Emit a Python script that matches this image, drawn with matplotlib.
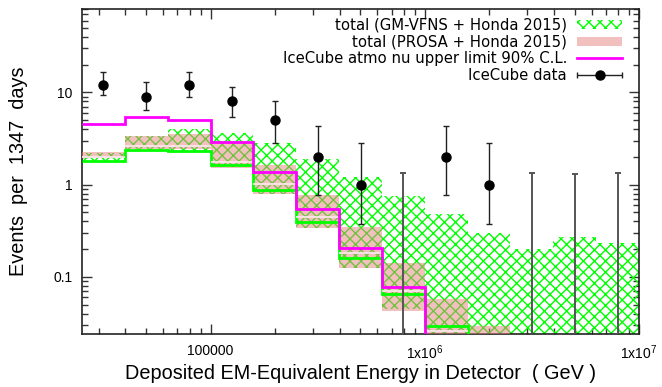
import numpy as np
import matplotlib.pyplot as plt
from matplotlib.patches import Patch
from matplotlib.lines import Line2D
from matplotlib.legend_handler import HandlerErrorbar
from matplotlib.ticker import FixedLocator, FuncFormatter, LogLocator, NullFormatter

plt.rcParams['mathtext.default'] = 'regular'
plt.rcParams['hatch.linewidth'] = 1.0

# energy bins (GeV), 0.2 decades wide
edges = [25119, 39811, 63096, 100000, 158489, 251189, 398107,
         630957, 1000000, 1584893, 2511886, 3981072, 6309573, 10000000]

# GM-VFNS + Honda 2015 band
gm_lo = [1.75, 2.30, 2.32, 1.55, 0.80, 0.34, 0.125, 0.045, 0.01, 0.01, 0.01, 0.01, 0.01]
gm_hi = [2.20, 3.40, 4.00, 3.65, 2.80, 1.90, 1.21, 0.76, 0.48, 0.30, 0.20, 0.27, 0.23]
gm_line = [1.80, 2.35, 2.34, 1.65, 0.87, 0.39, 0.16, 0.065, 0.029, 0.012, 0.006, 0.004, 0.003]

# PROSA + Honda 2015 band
prosa_lo = [1.92, 2.45, 2.42, 1.52, 0.79, 0.338, 0.124, 0.043, 0.015, 0.008, 0.004, 0.003, 0.002]
prosa_hi = [2.27, 3.40, 3.49, 2.84, 1.62, 0.765, 0.343, 0.141, 0.058, 0.0295, 0.01, 0.006, 0.004]
prosa_mid = [1.98, 2.62, 2.60, 1.76, 1.02, 0.445, 0.18, 0.07, 0.026, 0.012, 0.006, 0.004, 0.003]

# IceCube atmospheric neutrino upper limit (90% C.L.)
ic_ul = [4.5, 5.4, 5.0, 2.88, 1.36, 0.545, 0.205, 0.077, 0.01, 0.005, 0.002, 0.001, 0.0005]

# IceCube events and error bars
ic_data = [12, 9, 12, 8, 5, 2, 1, 0, 2, 1, 0, 0, 0]
ic_up = [16.6, 13.1, 16.7, 11.5, 7.98, 4.35, 2.83, 1.32, 4.3, 2.83, 1.32, 1.31, 1.32]
ic_dn = [9.35, 6.43, 8.96, 5.45, 2.81, 0.765, 0.374, 0, 0.765, 0.374, 0, 0, 0]

edges = np.array(edges, dtype=float)
lo, hi = edges[:-1], edges[1:]
xc = np.sqrt(lo * hi)
width = hi - lo

fig, ax = plt.subplots(figsize=(6.62, 3.87), dpi=100)
fig.subplots_adjust(left=0.1239, right=0.9653, bottom=0.137, top=0.9767)

ax.set_xscale('log')
ax.set_yscale('log')

# bands
ax.bar(lo, np.array(gm_hi) - np.array(gm_lo), width=width, bottom=gm_lo, align='edge',
       facecolor='none', edgecolor='#00ff00', hatch='xxx', linewidth=0, zorder=2)
ax.bar(lo, np.array(prosa_hi) - np.array(prosa_lo), width=width, bottom=prosa_lo, align='edge',
       facecolor='#e88282', alpha=0.5, linewidth=0, zorder=3)
ax.stairs(gm_line, edges, baseline=None, color='#00ff00', lw=2, zorder=4)
ax.hlines(prosa_mid, lo, hi, color='#fbe6ec', lw=1.3, zorder=4)
ax.stairs(ic_ul, edges, baseline=None, color='#ff00ff', lw=2, zorder=5)

# data
data = np.array(ic_data, dtype=float)
up = np.array(ic_up)
dn = np.array(ic_dn)
nz = data > 0
ax.errorbar(xc[nz], data[nz], yerr=[data[nz] - dn[nz], up[nz] - data[nz]], fmt='o',
            color='black', ecolor='#222222', ms=6.5, elinewidth=1.0, capsize=2.5, capthick=1.0,
            zorder=6)
ax.vlines(xc[~nz], 1e-3, up[~nz], color='#555555', lw=1.4, zorder=6)
ax.plot(xc[~nz], up[~nz], '_', color='#555555', ms=5, mew=1.4, zorder=6)

ax.set_xlim(edges[0], edges[-1])
ax.set_ylim(0.024, 80)


def xfmt(v, pos):
    if v < 5e5:
        return '%d' % round(v)
    return '1x10$^{%d}$' % round(np.log10(v))


ax.xaxis.set_major_locator(FixedLocator([1e5, 1e6, 1e7]))
ax.xaxis.set_major_formatter(FuncFormatter(xfmt))
ax.xaxis.set_minor_locator(LogLocator(base=10, subs=np.arange(2, 10)))
ax.xaxis.set_minor_formatter(NullFormatter())
ax.yaxis.set_major_locator(FixedLocator([0.1, 1, 10]))
ax.yaxis.set_major_formatter(FuncFormatter(lambda v, p: '%g' % v))
ax.yaxis.set_minor_locator(LogLocator(base=10, subs=np.arange(2, 10)))
ax.yaxis.set_minor_formatter(NullFormatter())
ax.tick_params(which='both', direction='in', top=True, right=True, width=1.0, color='#333333')
ax.tick_params(which='major', length=7, pad=7)
ax.tick_params(which='minor', length=4)
for lab in ax.get_xticklabels() + ax.get_yticklabels():
    lab.set_fontfamily('Liberation Sans')
    lab.set_fontsize(10)
for sp in ax.spines.values():
    sp.set_linewidth(1.2)
    sp.set_color('#222222')

ax.set_xlabel('Deposited EM-Equivalent Energy in Detector  ( GeV )',
              family='Liberation Sans', fontsize=14.3, labelpad=1)
ax.set_ylabel('Events  per  1347  days', family='Liberation Sans', fontsize=14.3, labelpad=18)

# legend
h_gm = Patch(facecolor='none', edgecolor='#00ff00', hatch='xxx', linewidth=0)
h_prosa = Patch(facecolor='#e88282', alpha=0.5, linewidth=0)
h_ul = Line2D([], [], color='#ff00ff', lw=2)
h_data = ax.errorbar([np.nan], [np.nan], xerr=[[1], [1]], fmt='o', color='black',
                     ecolor='#222222', ms=6.5, elinewidth=1.0, capsize=2.5)
ax.legend([h_gm, h_prosa, h_ul, h_data],
          ['total (GM-VFNS + Honda 2015)', 'total (PROSA + Honda 2015)',
           'IceCube atmo nu upper limit 90% C.L.', 'IceCube data'],
          loc='upper right', bbox_to_anchor=(0.988, 1.005), frameon=False, markerfirst=False,
          prop=dict(family='DejaVu Sans', size=10.7), handlelength=3.0, handleheight=0.55,
          handletextpad=0.7, labelspacing=0.12, borderaxespad=0.3,
          handler_map={type(h_data): HandlerErrorbar(xerr_size=1.5)})

fig.savefig('out.png', dpi=100)
